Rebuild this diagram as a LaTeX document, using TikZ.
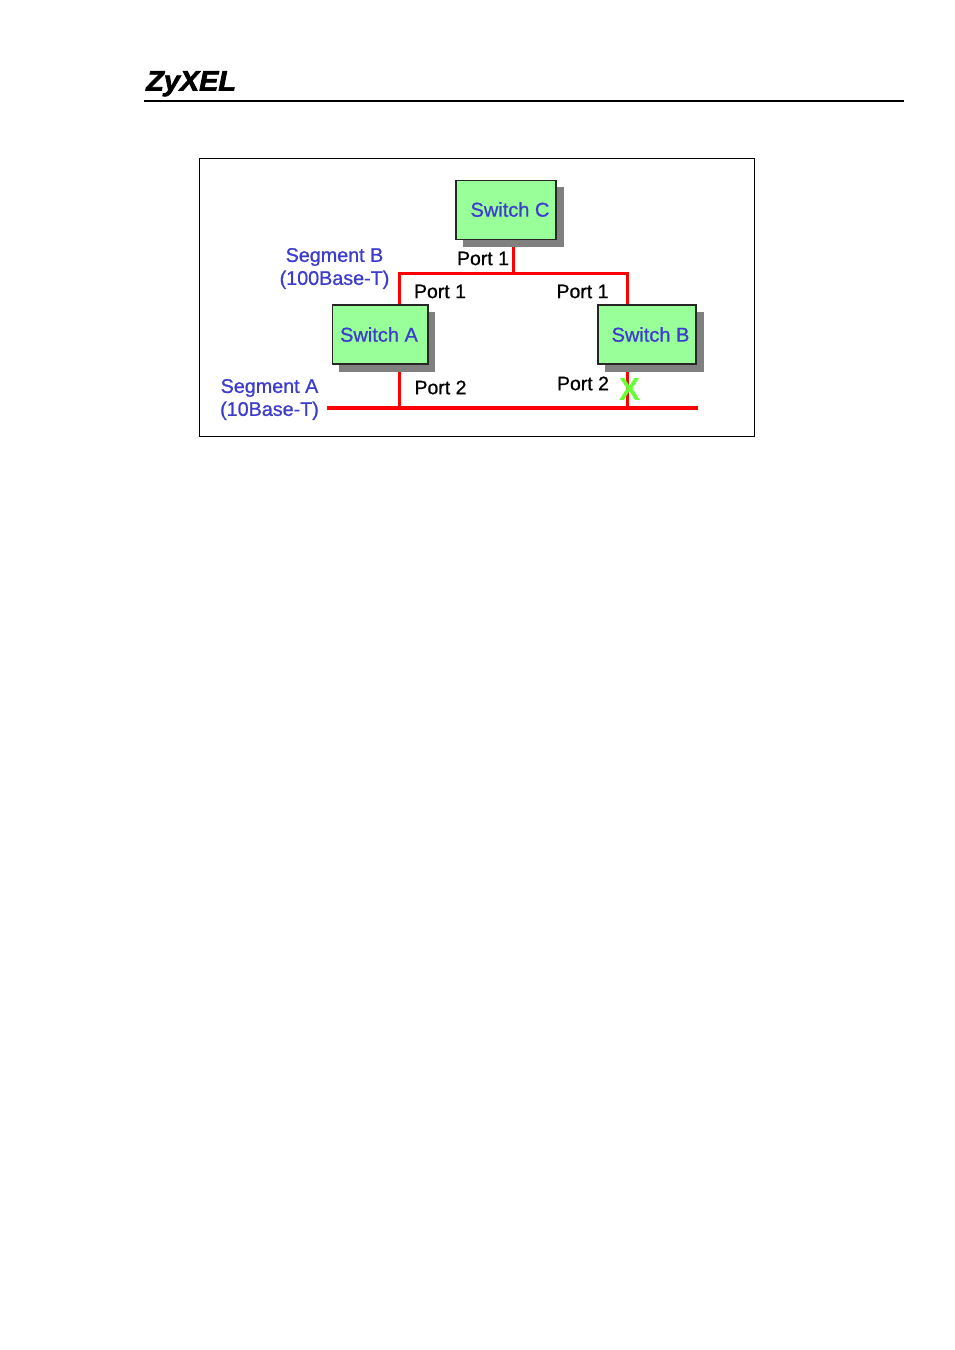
\documentclass[tikz,border=0pt]{standalone}
\usepackage{fontspec}
\setmainfont{Liberation Sans}
\newfontfamily\semibold[FakeBold=0.8]{Liberation Sans}
\newfontfamily\logofont[FakeBold=2.5]{Liberation Sans Bold Italic}
\definecolor{swgreen}{RGB}{153,255,153}
\definecolor{labblue}{RGB}{60,60,205}
\definecolor{wire}{RGB}{255,0,0}
\definecolor{xgreen}{RGB}{102,255,51}
\tikzset{
  switchbox/.style={draw=black!85,line width=0.8pt,fill=swgreen,minimum width=#1*0.75pt,minimum height=44.25pt,inner sep=0pt,outer sep=0pt},
  shade box/.style={fill=black!50,draw=none},
  seglabel/.style={font=\semibold\fontsize{14.8pt}{17.25pt}\selectfont,text=labblue,align=center,inner sep=0pt},
  swlabel/.style={font=\semibold\fontsize{15pt}{17pt}\selectfont,text=labblue,inner sep=0pt},
  portlabel/.style={font=\semibold\fontsize{14.6pt}{17pt}\selectfont,text=black,inner sep=0pt},
  wireline/.style={draw=wire,line width=2.3pt}
}
\begin{document}
\begin{tikzpicture}[x=0.75pt,y=-0.75pt]
\useasboundingbox[fill=white] (0,0) rectangle (954,1350);
% header
\node[inner sep=0pt,anchor=base west] (logo) at (146,90.5) {\scalebox{1.03}[1]{\logofont\fontsize{21pt}{21pt}\selectfont ZyXEL}};
\coordinate (ruleL) at (144,101);
\coordinate (ruleR) at (904,101);
\draw[black,line width=1.5pt] (ruleL) -- (ruleR);
% frame
\draw[black,line width=0.8pt] (199.5,158.5) rectangle (754.5,436.5);
% shadows
\fill[shade box] (463,187) rectangle (564,247);
\fill[shade box] (339,312) rectangle (435,372);
\fill[shade box] (605,312) rectangle (704,372);
% junction coordinates
\coordinate (jC) at (513.5,273.3);
\coordinate (cornerA) at (399.3,273.3);
\coordinate (cornerB) at (627.5,273.3);
\coordinate (busL) at (327,408);
\coordinate (busR) at (698,408);
\coordinate (busA) at (399.3,408);
\coordinate (busB) at (627.5,408);
\coordinate (stubC) at (513.5,247);
\coordinate (stubA) at (399.3,372);
\coordinate (stubB) at (627.5,372);
% wires
\draw[wireline] (stubC) -- (jC);
\draw[wireline,line join=miter] (399.3,305) -- (cornerA) -- (cornerB) -- (627.5,305);
\draw[wireline] (stubA) -- (busA);
\draw[wireline] (stubB) -- (busB);
\draw[wireline] (busL) -- (busR);
% switches
\node[switchbox=100,anchor=north west] (swC) at (456,180.5) {};
\node[switchbox=95.5,anchor=north west] (swA) at (332.5,305) {};
\node[switchbox=98,anchor=north west] (swB) at (598,305) {};
\node[swlabel] at (510,209.5) {Switch C};
\node[swlabel] at (379,334.5) {Switch A};
\node[swlabel] at (650.5,334.5) {Switch B};
% segment labels
\node[seglabel] (segB) at (334.5,268.5) {Segment B\\(100Base-T)};
\node[seglabel] (segA) at (269.5,399.5) {Segment A\\(10Base-T)};
% port labels
\node[portlabel] (pC1) at (483,258.5) {Port 1};
\node[portlabel] (pA1) at (440,291.5) {Port 1};
\node[portlabel] (pB1) at (582.5,291.5) {Port 1};
\node[portlabel] (pA2) at (440.5,387.5) {Port 2};
\node[portlabel] (pB2) at (583,383.5) {Port 2};
% X mark
\node[inner sep=0pt,text=xgreen] (xm) at (629.5,389.5) {\fontsize{24pt}{24pt}\selectfont\bfseries X};
\end{tikzpicture}
\end{document}
